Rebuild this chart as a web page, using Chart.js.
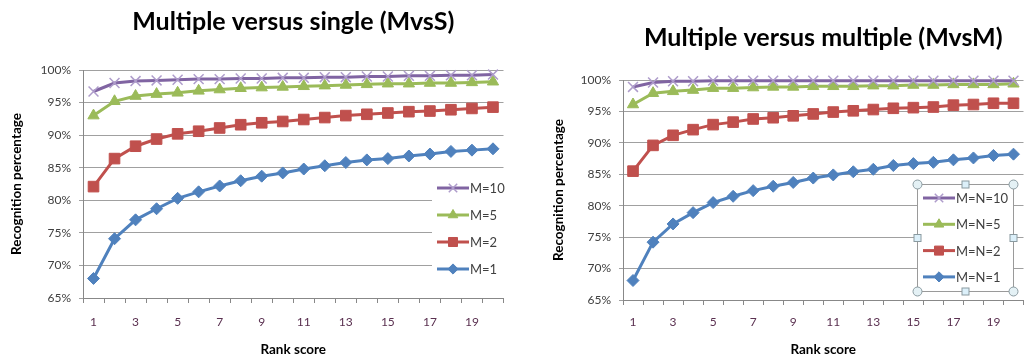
<!doctype html>
<html>
<head>
<meta charset="UTF-8">
<title>Multiple versus single / multiple</title>
<style>
html,body{margin:0;padding:0;background:#fff;overflow:hidden;width:1024px;height:360px;}
#chartS{position:absolute;left:0;top:0;}
#chartM{position:absolute;left:512px;top:0;}
</style>
</head>
<body>
<canvas id="chartS" width="512" height="360"></canvas>
<canvas id="chartM" width="520" height="360"></canvas>
<script src="https://cdn.jsdelivr.net/npm/chart.js@4/dist/chart.umd.min.js"></script>
<script>
// rank 1..20
var rankLabels = ['1','2','3','4','5','6','7','8','9','10','11','12','13','14','15','16','17','18','19','20'];
var yMin = 65, yMax = 100, yStep = 5;

// left chart: multiple versus single
var singleTitle = 'Multiple versus single (MvsS)';
var singleNames = ['M=10', 'M=5', 'M=2', 'M=1'];
var single10 = [96.7, 98.0, 98.3, 98.4, 98.5, 98.6, 98.6, 98.7, 98.7, 98.8, 98.8, 98.9, 98.9, 99.0, 99.0, 99.1, 99.1, 99.2, 99.2, 99.3];
var single5  = [93.0, 95.2, 96.0, 96.3, 96.5, 96.8, 97.0, 97.2, 97.3, 97.4, 97.5, 97.6, 97.7, 97.8, 97.9, 97.9, 98.0, 98.0, 98.1, 98.2];
var single2  = [82.1, 86.4, 88.3, 89.4, 90.2, 90.6, 91.1, 91.6, 91.9, 92.1, 92.4, 92.7, 93.0, 93.2, 93.4, 93.6, 93.7, 93.9, 94.1, 94.3];
var single1  = [68.0, 74.1, 77.0, 78.7, 80.3, 81.3, 82.2, 83.0, 83.7, 84.2, 84.8, 85.3, 85.8, 86.2, 86.4, 86.8, 87.1, 87.5, 87.7, 87.9];

// right chart: multiple versus multiple
var multiTitle = 'Multiple versus multiple (MvsM)';
var multiNames = ['M=N=10', 'M=N=5', 'M=N=2', 'M=N=1'];
var multi10 = [98.9, 99.6, 99.8, 99.8, 99.9, 99.9, 99.9, 99.9, 99.9, 99.9, 99.9, 99.9, 99.9, 99.9, 99.9, 99.9, 99.9, 99.9, 99.9, 99.9];
var multi5  = [96.1, 97.9, 98.2, 98.4, 98.7, 98.7, 98.8, 98.9, 98.9, 99.0, 99.0, 99.0, 99.1, 99.1, 99.2, 99.2, 99.3, 99.3, 99.3, 99.4];
var multi2  = [85.5, 89.6, 91.2, 92.1, 92.9, 93.3, 93.8, 94.0, 94.3, 94.6, 94.9, 95.1, 95.3, 95.5, 95.6, 95.7, 96.0, 96.1, 96.3, 96.3];
var multi1  = [68.1, 74.2, 77.1, 78.9, 80.5, 81.5, 82.4, 83.1, 83.7, 84.4, 84.9, 85.4, 85.8, 86.4, 86.7, 86.9, 87.3, 87.6, 88.0, 88.2];

// excel 2007 look
var lineColors  = ['#8064A2', '#9BBB59', '#C0504D', '#4F81BD'];
var markColors  = ['#AE9CCB', '#9BBB59', '#C0504D', '#4F81BD'];
var markStyles  = ['crossRot', 'triangle', 'rect', 'rectRot'];
var markSizes   = [7, 6.5, 7.5, 6];

Chart.defaults.font.family = 'Lato, "Open Sans", sans-serif';
Chart.defaults.color = '#404040';

// legend drawn inside the plot, like the excel one
var boxLegend = {
  id: 'boxLegend',
  afterDraw: function(chart, args, o) {
    var ctx = chart.ctx;
    ctx.save();
    ctx.fillStyle = '#fff';
    ctx.fillRect(o.x, o.y, o.w, o.h);
    if (o.frame) {
      ctx.strokeStyle = '#9a9a9a';
      ctx.lineWidth = 1;
      ctx.strokeRect(o.x + 0.5, o.y + 0.5, o.w, o.h);
    }
    chart.data.datasets.forEach(function(ds, i) {
      var cy = o.firstRow + i * o.rowH;
      var x0 = o.x + o.pad;
      ctx.strokeStyle = ds.borderColor;
      ctx.lineWidth = ds.borderWidth;
      ctx.beginPath();
      ctx.moveTo(x0, cy);
      ctx.lineTo(x0 + o.sample, cy);
      ctx.stroke();
      ctx.fillStyle = ds.pointBackgroundColor;
      ctx.strokeStyle = ds.pointBorderColor;
      ctx.lineWidth = ds.pointBorderWidth;
      Chart.helpers.drawPoint(ctx, {pointStyle: ds.pointStyle, radius: ds.pointRadius * 0.85, borderWidth: ds.pointBorderWidth, rotation: 0}, x0 + o.sample / 2, cy);
      ctx.fillStyle = '#404040';
      ctx.font = '13px Lato, "Open Sans", sans-serif';
      ctx.textBaseline = 'middle';
      ctx.fillText(ds.label, x0 + o.sample + 1, cy + 1);
    });
    if (o.frame) {
      // selection handles
      var xs = [o.x, o.x + o.w / 2, o.x + o.w];
      var ys = [o.y, o.y + o.h / 2, o.y + o.h];
      for (var a = 0; a < 3; a++) {
        for (var b = 0; b < 3; b++) {
          if (a === 1 && b === 1) continue;
          var hx = xs[a] + 0.5, hy = ys[b] + 0.5;
          ctx.lineWidth = 1;
          ctx.strokeStyle = '#8a9aa0';
          if (a !== 1 && b !== 1) {
            ctx.fillStyle = '#e4f1f5';
            ctx.beginPath();
            ctx.arc(hx, hy, 4.5, 0, Math.PI * 2);
            ctx.fill();
            ctx.stroke();
          } else {
            ctx.fillStyle = '#dcf0fa';
            ctx.fillRect(hx - 3.5, hy - 3.5, 7, 7);
            ctx.strokeRect(hx - 3.5, hy - 3.5, 7, 7);
          }
        }
      }
    }
    ctx.restore();
  }
};

function makeChart(id, title, names, series, lay) {
  var datasets = [];
  for (var i = 0; i < series.length; i++) {
    datasets.push({
      label: names[i],
      data: series[i],
      borderColor: lineColors[i],
      borderWidth: 3,
      pointStyle: markStyles[i],
      pointRadius: markSizes[i],
      pointHoverRadius: markSizes[i],
      pointBackgroundColor: markColors[i],
      pointBorderColor: markColors[i],
      pointBorderWidth: i === 0 ? 1.5 : 1,
      tension: 0,
      fill: false,
      clip: false
    });
  }
  return new Chart(document.getElementById(id), {
    type: 'line',
    data: { labels: rankLabels, datasets: datasets },
    options: {
      responsive: false,
      animation: false,
      events: [],
      layout: { padding: { left: 0, right: lay.padRight, top: 0, bottom: 0 } },
      plugins: {
        legend: { display: false },
        tooltip: { enabled: false },
        title: {
          display: true,
          text: title,
          fullSize: false,
          color: '#000',
          font: { size: 25, weight: 'bold' },
          padding: { top: lay.titleTop, bottom: lay.titleBottom }
        },
        boxLegend: lay.legend
      },
      scales: {
        x: {
          offset: true,
          afterFit: function(s) { s.height = lay.xHeight; },
          grid: { offset: true, drawOnChartArea: false, drawTicks: true, tickLength: 5, color: '#888' },
          border: { color: '#888', width: 1 },
          ticks: {
            autoSkip: false,
            maxRotation: 0,
            padding: lay.xTickPad,
            color: '#5a3050',
            font: { size: 12 },
            callback: function(v, idx) { return idx % 2 === 0 ? this.getLabelForValue(v) : ''; }
          },
          title: { display: true, text: 'Rank score', color: '#000', font: { size: 13.5, weight: 'bold' }, padding: { top: 0, bottom: 2 } }
        },
        y: {
          min: yMin,
          max: yMax,
          afterFit: function(s) { s.width = lay.yWidth; },
          grid: { color: '#a0a0a0', tickLength: 4 },
          border: { color: '#888', width: 1 },
          ticks: {
            stepSize: yStep,
            padding: 8,
            color: '#404040',
            font: { size: 12 },
            callback: function(v) { return v + '%'; }
          },
          title: { display: true, text: 'Recognition percentage', color: '#000', font: { size: 13.5, weight: 'bold' }, padding: { top: lay.yTitlePad, bottom: 0 } }
        }
      }
    },
    plugins: [boxLegend]
  });
}

makeChart('chartS', singleTitle, singleNames, [single10, single5, single2, single1], {
  padRight: 7, titleTop: 7, titleBottom: 33, xHeight: 62, xTickPad: 12, yWidth: 83, yTitlePad: 9,
  legend: { x: 432, y: 176, w: 78, h: 106, firstRow: 188, rowH: 27, pad: 5, sample: 32, frame: false }
});

makeChart('chartM', multiTitle, multiNames, [multi10, multi5, multi2, multi1], {
  padRight: 5, titleTop: 23, titleBottom: 27, xHeight: 60, xTickPad: 10, yWidth: 111, yTitlePad: 39,
  legend: { x: 405, y: 184, w: 96, h: 107, firstRow: 198, rowH: 26.3, pad: 6, sample: 32, frame: true }
});
</script>
</body>
</html>
